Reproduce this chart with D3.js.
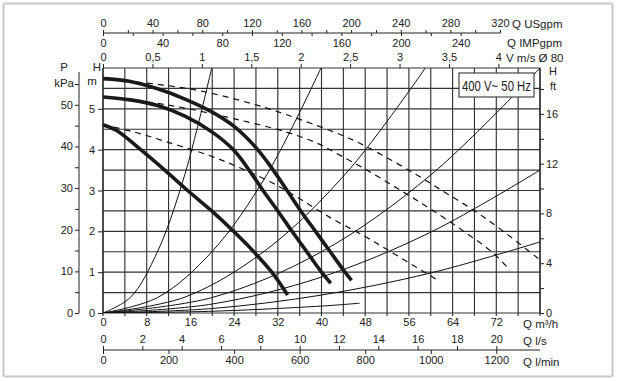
<!DOCTYPE html>
<html>
<head>
<meta charset="utf-8">
<script src="https://cdn.jsdelivr.net/npm/d3@7"></script>
<style>
  html, body { margin: 0; padding: 0; background: #fff; }
  svg { display: block; }
  text { font-family: "Liberation Sans", Arial, Helvetica, sans-serif; fill: #222; }
</style>
</head>
<body>
<svg id="chart" width="617" height="381"></svg>
<script>
// ---------------- DATA ----------------
const flowDomain = [0, 80];
const headDomain = [0, 6];
const flowLabels = [0, 8, 16, 24, 32, 40, 48, 56, 64, 72];
const flowGrid = [0, 4, 8, 12, 16, 20, 24, 28, 32, 36, 40, 44, 48, 52, 56, 60, 64, 68, 72, 76, 80];
const headGrid = [0, 0.5, 1, 1.5, 2, 2.5, 3, 3.5, 4, 4.5, 5, 5.5, 6];
const headLabels = [0, 1, 2, 3, 4, 5];
const kpaTicks = [0, 5, 10, 15, 20, 25, 30, 35, 40, 45, 50, 55];
const kpaLabels = [0, 10, 20, 30, 40, 50];
const ftTicks = [0, 2, 4, 6, 8, 10, 12, 14, 16, 18];
const ftLabels = [0, 4, 8, 12, 16];
const usgpmTicks = [0, 20, 40, 60, 80, 100, 120, 140, 160, 180, 200, 220, 240, 260, 280, 300, 320];
const usgpmLabels = [0, 40, 80, 120, 160, 200, 240, 280, 320];
const impTicks = [0, 20, 40, 60, 80, 100, 120, 140, 160, 180, 200, 220, 240];
const impLabels = [0, 40, 80, 120, 160, 200, 240];
const velTicks = [0, 0.5, 1, 1.5, 2, 2.5, 3, 3.5, 4];
const lsTicks = [0, 2, 4, 6, 8, 10, 12, 14, 16, 18, 20];
const lminTicks = [0, 200, 400, 600, 800, 1000, 1200];

// Pump curves (Q m3/h, H m) - thick solid
const pumpHigh = [[0,5.74],[5,5.67],[10,5.49],[15,5.24],[20,4.92],[24,4.57],[28,4.05],[31,3.53],[33.7,3.0],[36.2,2.5],[38.9,2.0],[41.6,1.5],[44.3,1.0],[45.5,0.8]];
const pumpMid  = [[0,5.29],[5,5.22],[10,5.08],[15,4.82],[20,4.43],[24,3.98],[27,3.45],[29.3,3.0],[32,2.5],[34.6,2.0],[37.3,1.5],[40,1.0],[41.7,0.73]];
const pumpLow  = [[0,4.61],[2.5,4.47],[6.9,4.0],[11.3,3.5],[15.5,3.0],[19.9,2.5],[23.9,2.0],[27.6,1.5],[30.9,1.0],[33.8,0.44]];
// Dashed curves
const dashHigh = [[0,5.73],[10,5.6],[17.8,5.44],[28.2,5.09],[36.7,4.71],[44,4.34],[48.3,4.07],[56.2,3.48],[62.3,2.98],[67.8,2.52],[72.7,2.06],[80,1.30]];
const dashMid  = [[0,5.29],[8.6,5.16],[15.3,5.01],[23.9,4.76],[33.6,4.43],[39.7,4.13],[42.2,3.95],[48.3,3.50],[54.4,3.01],[60.5,2.50],[66.6,1.95],[71.5,1.46],[74.5,1.05]];
const dashLow  = [[0,4.61],[5.5,4.44],[11.7,4.19],[19.6,3.85],[25.7,3.52],[31.8,3.13],[36.1,2.79],[42.2,2.29],[48.3,1.85],[54.4,1.36],[61.7,0.77]];
// System (resistance) curves, thin
const sys1 = [[0,0],[5,0.38],[10,1.51],[15,3.4],[19.9,6.0]];
const sys2 = [[0,0],[10,0.38],[20,1.51],[30,3.39],[39.9,6.0]];
const sys3 = [[0,0],[15,0.39],[30,1.56],[45,3.5],[59,6.0]];
const sys4 = [[0,0],[20,0.38],[40,1.5],[60,3.38],[80,6.0]];
const sys5 = [[0,0],[20,0.22],[40,0.88],[60,1.98],[80,3.5]];
const sys6 = [[0,0],[20,0.11],[40,0.44],[60,0.98],[80,1.74]];
const sys7 = [[0,0],[20,0.043],[40,0.17],[47,0.24]];

const voltageLabel = "400 V~ 50 Hz";

// ---------------- DRAWING ----------------
const svg = d3.select("#chart");
const L = 103, R = 540, T = 68, B = 313;

const x = d3.scaleLinear().domain(flowDomain).range([L, R]);
const y = d3.scaleLinear().domain(headDomain).range([B, T]);
const yKpa = d3.scaleLinear().domain([0, headDomain[1] * 9.80665]).range([B, T]);
const yFt = d3.scaleLinear().domain([0, headDomain[1] / 0.3048]).range([B, T]);
const xUs = d3.scaleLinear().domain([0, flowDomain[1] * 4.40287]).range([L, R]);
const xImp = d3.scaleLinear().domain([0, flowDomain[1] * 3.66615]).range([L, R]);
const xVel = d3.scaleLinear().domain([0, flowDomain[1] / 3600 / (Math.PI * 0.04 * 0.04)]).range([L, R]);
const xLs = d3.scaleLinear().domain([0, flowDomain[1] / 3.6]).range([L, R]);
const xLmin = d3.scaleLinear().domain([0, flowDomain[1] / 0.06]).range([L, R]);

const comma = v => String(v).replace(".", ",");
const plain = v => String(v);

// outer frame
svg.append("rect").attr("x", 3.5).attr("y", 3.5).attr("width", 609).attr("height", 373)
  .attr("rx", 2).attr("fill", "#fff").attr("stroke", "#c8c8c8").attr("stroke-width", 2);

// grid
const grid = svg.append("g").attr("stroke", "#333").attr("stroke-width", 1.15);
grid.selectAll("line.v").data(flowGrid).join("line").attr("class", "v")
  .attr("x1", d => x(d)).attr("x2", d => x(d)).attr("y1", T).attr("y2", B + 3);
grid.selectAll("line.h").data(headGrid).join("line").attr("class", "h")
  .attr("x1", L).attr("x2", R).attr("y1", d => y(d)).attr("y2", d => y(d));

svg.append("clipPath").attr("id", "plotclip").append("rect")
  .attr("x", L).attr("y", T).attr("width", R - L).attr("height", B - T);

const line = d3.line().x(d => x(d[0])).y(d => y(d[1])).curve(d3.curveCatmullRom.alpha(0.5));
const plot = svg.append("g").attr("clip-path", "url(#plotclip)");

[sys1, sys2, sys3, sys4, sys5, sys6, sys7].forEach(s => {
  plot.append("path").attr("d", line(s)).attr("fill", "none")
    .attr("stroke", "#111").attr("stroke-width", 1);
});
[dashHigh, dashMid, dashLow].forEach(s => {
  plot.append("path").attr("d", line(s)).attr("fill", "none")
    .attr("stroke", "#111").attr("stroke-width", 1.2).attr("stroke-dasharray", "6,5");
});
[pumpHigh, pumpMid, pumpLow].forEach(s => {
  plot.append("path").attr("d", line(s)).attr("fill", "none")
    .attr("stroke", "#1a1a1a").attr("stroke-width", 3.6).attr("stroke-linecap", "butt");
});

// voltage box
const bx = 459, by = 73;
svg.append("rect").attr("x", bx).attr("y", by).attr("width", 75).attr("height", 24)
  .attr("fill", "#fff").attr("stroke", "#222").attr("stroke-width", 1);
svg.append("g").attr("transform", `translate(${bx + 3},${by + 17.5}) scale(0.81,1)`)
  .append("text").attr("x", 0).attr("y", 0)
  .attr("font-size", 14)
  .text(voltageLabel);

function style(g) {
  g.selectAll("text").attr("font-size", 11).attr("fill", "#222")
    .attr("font-family", "'Liberation Sans', Arial, sans-serif");
  g.selectAll("line").attr("stroke", "#222");
  g.select(".domain").remove();
  g.selectAll("text").filter(function() { return this.textContent === ""; }).remove();
  return g;
}

// bottom Q m3/h
svg.append("g").attr("transform", `translate(0,${B})`)
  .call(d3.axisBottom(x).tickValues(flowLabels).tickSize(0).tickPadding(5).tickFormat(plain))
  .call(style);
// H m axis
svg.append("g").attr("transform", `translate(${L},0)`)
  .call(d3.axisLeft(y).tickValues(headLabels).tickSize(5).tickPadding(3).tickFormat(plain))
  .call(style);
// kPa axis
const gk = svg.append("g").attr("transform", "translate(79,0)")
  .call(d3.axisLeft(yKpa).tickValues(kpaTicks).tickSize(4).tickPadding(2)
    .tickFormat(d => kpaLabels.includes(d) ? String(d) : ""))
  .call(style);
gk.append("line").attr("x1", 0).attr("x2", 0).attr("y1", B).attr("y2", 72).attr("stroke", "#222");
// ft axis
svg.append("g").attr("transform", `translate(${R},0)`)
  .call(d3.axisRight(yFt).tickValues(ftTicks).tickSize(4).tickPadding(2)
    .tickFormat(d => ftLabels.includes(d) ? String(d) : ""))
  .call(style);
svg.append("line").attr("x1", R).attr("x2", R).attr("y1", T).attr("y2", B).attr("stroke", "#222").attr("stroke-width", 1.2);
svg.append("line").attr("x1", L).attr("x2", L).attr("y1", T).attr("y2", B).attr("stroke", "#222").attr("stroke-width", 1.2);

// velocity axis
svg.append("g").attr("transform", `translate(0,${T})`)
  .call(d3.axisTop(xVel).tickValues(velTicks).tickSize(4).tickPadding(3).tickFormat(comma))
  .call(style);

// USgpm / IMPgpm axis
const topY = 33;
svg.append("g").attr("transform", `translate(0,${topY})`)
  .call(d3.axisTop(xUs).tickValues(usgpmTicks).tickSize(3).tickPadding(3)
    .tickFormat(d => usgpmLabels.includes(d) ? String(d) : ""))
  .call(style);
svg.append("g").attr("transform", `translate(0,${topY})`)
  .call(d3.axisBottom(xImp).tickValues(impTicks).tickSize(3).tickPadding(3)
    .tickFormat(d => impLabels.includes(d) ? String(d) : ""))
  .call(style);
svg.append("line").attr("x1", L).attr("x2", xUs(320)).attr("y1", topY).attr("y2", topY).attr("stroke", "#222");

// l/s and l/min axis
const botY = 350;
svg.append("g").attr("transform", `translate(0,${botY})`)
  .call(d3.axisTop(xLs).tickValues(lsTicks).tickSize(4).tickPadding(3).tickFormat(plain))
  .call(style);
svg.append("g").attr("transform", `translate(0,${botY})`)
  .call(d3.axisBottom(xLmin).tickValues(lminTicks).tickSize(4).tickPadding(2).tickFormat(plain))
  .call(style);
svg.append("line").attr("x1", L).attr("x2", R).attr("y1", botY).attr("y2", botY).attr("stroke", "#222");

// unit labels
const lab = (t, xx, yy, anchor, fs) => svg.append("text").attr("x", xx).attr("y", yy)
  .attr("font-size", fs || 11.5).attr("text-anchor", anchor || "start").text(t);
lab("Q USgpm", 512, 28);
lab("Q IMPgpm", 507, 47);
lab("V m/s Ø 80", 506, 62);
lab("Q m³/h", 523, 328);
lab("Q l/s", 523, 345);
lab("Q l/min", 523, 366);
lab("P", 64, 71, "middle");
lab("kPa", 74, 87, "end");
lab("H", 97, 71, "middle");
lab("m", 92, 85, "middle");
lab("H", 549, 75, "start", 11);
lab("ft", 550, 90, "start", 11);
</script>
</body>
</html>
